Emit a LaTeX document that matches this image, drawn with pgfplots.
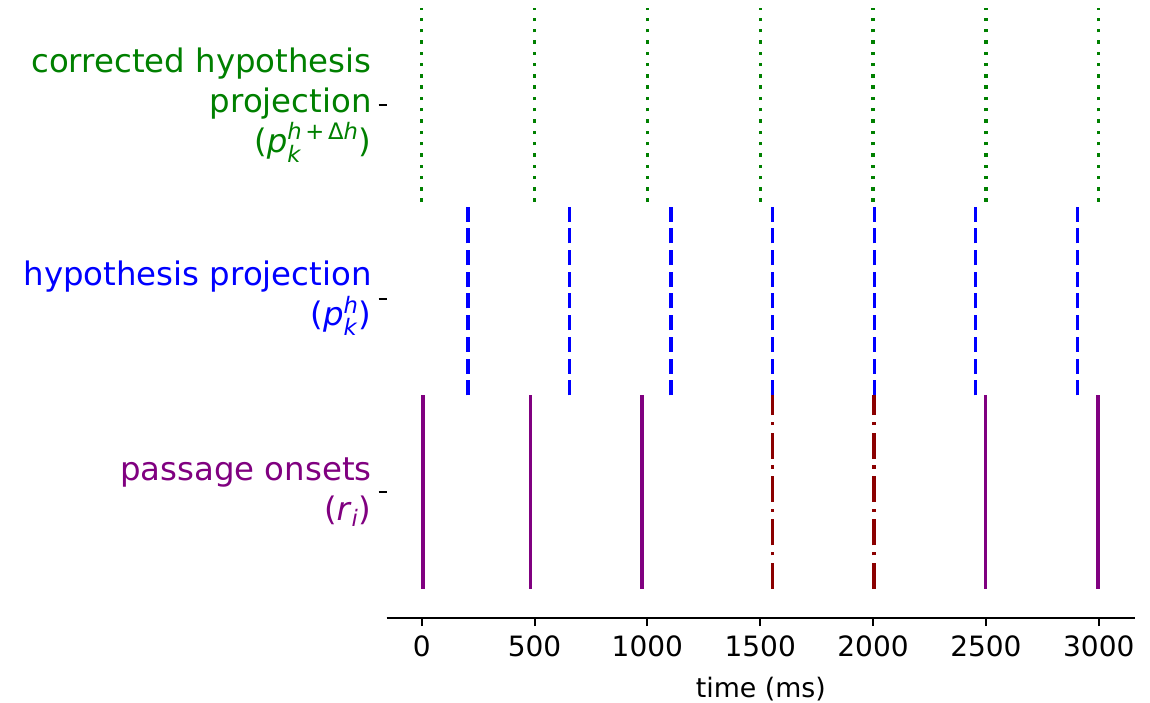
\documentclass[border=0pt]{standalone}
\usepackage{amsmath}
\usepackage{fontspec}
\setmainfont{DejaVu Sans}
\usepackage{pgfplots}
\pgfplotsset{compat=1.18}
\definecolor{mgreen}{RGB}{0,128,0}
\definecolor{mblue}{RGB}{0,0,255}
\definecolor{mpurple}{RGB}{128,0,128}
\definecolor{mdarkred}{RGB}{139,0,0}
\begin{document}
\begin{tikzpicture}
\path[use as bounding box] (-193.35pt,-42pt) rectangle (381.65pt,309pt);
\begin{axis}[
  scale only axis,
  width=374.2pt, height=309pt,
  xmin=-155, xmax=3161,
  ymin=-0.651, ymax=2.543,
  axis x line*=bottom,
  axis y line*=left,
  y axis line style={draw=none},
  x axis line style={line width=1pt},
  tick align=outside,
  major tick length=4pt,
  tick style={black, line width=1pt},
  xtick={0,500,1000,1500,2000,2500,3000},
  ytick={0,1,2},
  /pgf/number format/assume math mode=true,
  /pgf/number format/1000 sep={},
  xticklabel style={font=\fontsize{14}{16.8}\selectfont, yshift=-1.5pt},
  yticklabel style={align=right, font=\fontsize{16.2}{20}\selectfont},
  yticklabels={
    {\color{mpurple}passage onsets\\\color{mpurple}(\textit{r}$_{\textit{i}}$)},
    {\color{mblue}hypothesis projection\\\color{mblue}(\textit{p}$^{\textit{h}}_{\textit{k}}$)},
    {\color{mgreen}corrected hypothesis\\\color{mgreen}projection\\\color{mgreen}(\textit{p}$^{\textit{h}\,\text{+}\,\text{Δ}\textit{h}}_{\textit{k}}$)}
  },
  xlabel={time (ms)},
  xlabel style={font=\fontsize{13.4}{16}\selectfont, yshift=-3pt},
  unbounded coords=jump,
  clip=false,
]
% corrected hypothesis projection
\addplot[mgreen, line width=1.7pt, dash pattern=on 1.7pt off 3.95pt] coordinates {
  (0,1.5) (0,2.5) (0,nan)
  (500,1.5) (500,2.5) (500,nan)
  (1000,1.5) (1000,2.5) (1000,nan)
  (1500,1.5) (1500,2.5) (1500,nan)
  (2000,1.5) (2000,2.5) (2000,nan)
  (2500,1.5) (2500,2.5) (2500,nan)
  (3000,1.5) (3000,2.5)
};
% hypothesis projection
\addplot[mblue, line width=1.7pt, dash pattern=on 7.5pt off 3.35pt] coordinates {
  (205,0.5) (205,1.5) (205,nan)
  (655,0.5) (655,1.5) (655,nan)
  (1105,0.5) (1105,1.5) (1105,nan)
  (1555,0.5) (1555,1.5) (1555,nan)
  (2005,0.5) (2005,1.5) (2005,nan)
  (2455,0.5) (2455,1.5) (2455,nan)
  (2905,0.5) (2905,1.5)
};
% passage onsets (regular)
\addplot[mpurple, line width=1.8pt] coordinates {
  (7,-0.5) (7,0.5) (7,nan)
  (483,-0.5) (483,0.5) (483,nan)
  (975,-0.5) (975,0.5) (975,nan)
  (2499,-0.5) (2499,0.5) (2499,nan)
  (2996,-0.5) (2996,0.5)
};
% passage onsets (shifted)
\addplot[mdarkred, line width=1.8pt, dash pattern=on 13pt off 3.7pt on 1.7pt off 3.3pt] coordinates {
  (1555,-0.5) (1555,0.5) (1555,nan)
  (2005,-0.5) (2005,0.5)
};
\end{axis}
\end{tikzpicture}
\end{document}
